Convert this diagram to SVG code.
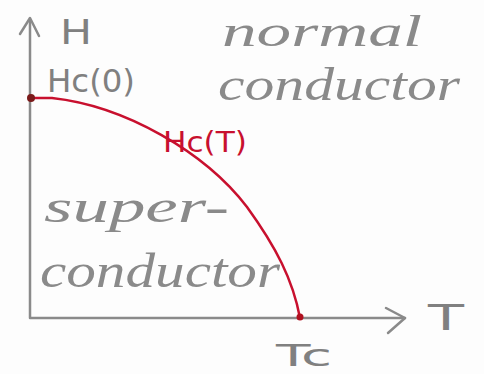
<svg xmlns="http://www.w3.org/2000/svg" width="484" height="374" viewBox="0 0 484 374">
<style>
.ax{fill:none;stroke:#8a8a8a;stroke-width:2.5;stroke-linecap:round;stroke-linejoin:round}
.lbl{font-family:"DejaVu Sans",sans-serif;fill:#808080}
.hw{font-family:"Liberation Serif",serif;font-style:italic;fill:#8a8a8a}
</style>
<rect width="484" height="374" fill="#fdfdfd"/>
<g id="connectors">
<path class="ax" d="M30,20 L30,318 L405,318"/>
<path class="ax" d="M20,34 L30,18 L39,36"/>
<path class="ax" d="M386,308 L405,318 L388,333"/>
<path d="M30,98 L52,98 C125,106 205,152 247,207 C276,247 293,280 300,318" fill="none" stroke="#c8102e" stroke-width="2.5" stroke-linecap="round"/>
<circle cx="31" cy="98" r="4" fill="#7a1a1a"/>
<circle cx="300" cy="317" r="3.5" fill="#b0101f"/>
</g>
<g id="axis-labels">
<text class="lbl" x="60" y="44" font-size="34" textLength="32" lengthAdjust="spacingAndGlyphs">H</text>
<text class="lbl" x="47" y="92" font-size="32" textLength="88" lengthAdjust="spacingAndGlyphs">Hc(0)</text>
<text class="lbl" x="428" y="330" font-size="36" textLength="36" lengthAdjust="spacingAndGlyphs">T</text>
<text class="lbl" x="276" y="366" font-size="30" textLength="56" lengthAdjust="spacingAndGlyphs">Tc</text>
</g>
<g id="curve-label">
<text x="163" y="152" font-family="DejaVu Sans,sans-serif" font-size="28" fill="#c8102e" textLength="84" lengthAdjust="spacingAndGlyphs">Hc(T)</text>
</g>
<g id="normal-region">
<text class="hw" x="222" y="46" font-size="44" textLength="200" lengthAdjust="spacingAndGlyphs">normal</text>
<text class="hw" x="218" y="100" font-size="46" textLength="242" lengthAdjust="spacingAndGlyphs">conductor</text>
</g>
<g id="super-region">
<text class="hw" x="44" y="222" font-size="46" textLength="185" lengthAdjust="spacingAndGlyphs">super-</text>
<text class="hw" x="40" y="287" font-size="48" textLength="240" lengthAdjust="spacingAndGlyphs">conductor</text>
</g>
</svg>
